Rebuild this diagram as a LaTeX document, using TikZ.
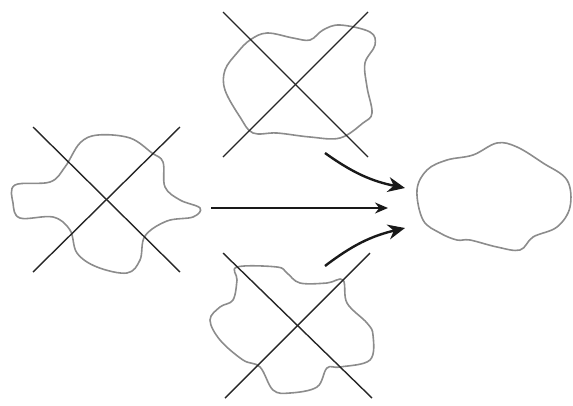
\documentclass[tikz,border=0pt]{standalone}
\usepackage{tikz}
\usetikzlibrary{arrows.meta}

\begin{document}
\begin{tikzpicture}[x=1pt, y=-1pt, >={Stealth[length=17pt, width=15pt]},
    blob/.style={draw=black!45, line width=1.6pt, smooth cycle, tension=0.6},
    cross/.style={draw=black!85, line width=1.4pt},
    arrow/.style={->, line width=2.4pt, black!90}]
    \useasboundingbox (0,0) rectangle (573,405);
    % left shape (crossed out)
    \draw[blob] plot coordinates {(98,135) (130,138) (152,153) (163,162) (165,187) (180,200)
        (200,208) (193,217) (167,221) (145,236) (140,260) (127,273) (97,267) (77,253)
        (70,230) (53,217) (20,218) (13,203) (15,185) (50,182) (65,167) (80,143)};
    \draw[cross] (33,127) coordinate (la) -- (180,272) coordinate (lb);
    \draw[cross] (180,127) coordinate (lc) -- (33,272) coordinate (ld);
    % upper shape (crossed out)
    \draw[blob] plot coordinates {(267,33) (293,38) (310,40) (323,30) (340,25) (370,32)
        (375,45) (365,63) (367,87) (372,113) (363,123) (340,138) (310,137) (277,133)
        (253,133) (240,117) (225,90) (225,70) (237,53) (250,40)};
    \draw[cross] (223,12) coordinate (ta) -- (368,157) coordinate (tb);
    \draw[cross] (368,12) coordinate (tc) -- (223,157) coordinate (td);
    % lower shape (crossed out)
    \draw[blob] plot coordinates {(237,267) (277,267) (287,273) (300,283) (327,283) (343,280)
        (347,303) (367,323) (373,335) (370,360) (340,367) (327,368) (317,387) (290,393)
        (273,390) (260,367) (243,360) (220,340) (210,320) (220,307) (233,300) (237,280)};
    \draw[cross] (223,253) coordinate (ba) -- (372,398) coordinate (bb);
    \draw[cross] (370,253) coordinate (bc) -- (225,398) coordinate (bd);
    % result shape
    \draw[blob] plot coordinates {(417,190) (427,170) (447,160) (473,155) (497,143) (517,147)
        (543,163) (567,180) (570,207) (557,227) (533,237) (520,250) (497,247) (470,240)
        (457,240) (440,233) (423,220)};
    % arrows
    \coordinate (a1) at (325,153);
    \coordinate (a2) at (405,188);
    \coordinate (m1) at (211,208);
    \coordinate (m2) at (388,208);
    \coordinate (b1) at (325,266);
    \coordinate (b2) at (405,228);
    \draw[arrow] (a1) to[bend right=12] (a2);
    \draw[->, line width=1.6pt, black!90, >={Stealth[length=13pt, width=11pt]}] (m1) -- (m2);
    \draw[arrow] (b1) to[bend left=12] (b2);
\end{tikzpicture}
\end{document}
